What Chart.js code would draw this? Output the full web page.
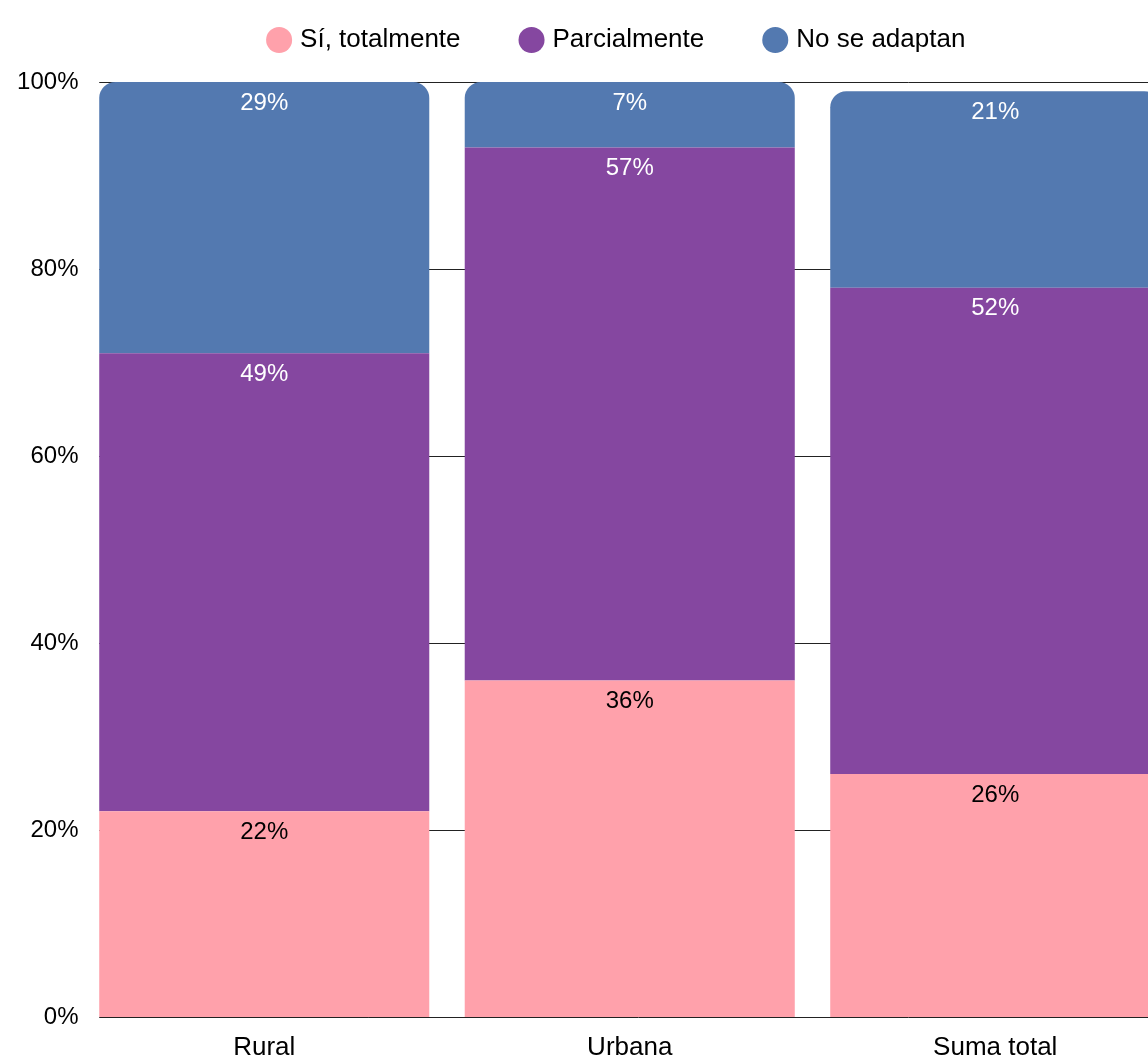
<!DOCTYPE html>
<html>
<head>
<meta charset="utf-8">
<script src="https://cdn.jsdelivr.net/npm/chart.js@4"></script>
<style>
  html, body { margin: 0; padding: 0; overflow: hidden; background: #fff; }
  #wrap { position: relative; width: 1178px; height: 1057px; }
</style>
</head>
<body>
<div id="wrap"><canvas id="adaptChart"></canvas></div>
<script>
// Data
const zonas = ['Rural', 'Urbana', 'Suma total'];
const totalmente = [22, 36, 26];
const parcialmente = [49, 57, 52];
const noAdaptan = [29, 7, 21];
const yTicks = [0, 20, 40, 60, 80, 100];

const FONT = "'Liberation Sans', Arial, sans-serif";

// grid lines start at the first bar, not at the chart area edge
const gridPlugin = {
    id: 'gridFromBars',
    afterLayout(chart) {
        // let the y labels use the space left of the axis box (layout padding is only for the legend)
        chart.scales.y.left = 0;
    },
    beforeDatasetsDraw(chart) {
        const ctx = chart.ctx;
        const y = chart.scales.y;
        const bar = chart.getDatasetMeta(0).data[0];
        const left = bar.x - bar.width / 2;
        ctx.save();
        ctx.strokeStyle = '#222';
        ctx.lineWidth = 1;
        yTicks.forEach(v => {
            const py = Math.round(y.getPixelForValue(v)) + 0.5;
            ctx.beginPath();
            ctx.moveTo(left, py);
            ctx.lineTo(chart.chartArea.right, py);
            ctx.stroke();
        });
        ctx.restore();
    }
};

// value labels at the top of each segment
const labelColors = ['#000000', '#ffffff', '#ffffff'];
const labelPlugin = {
    id: 'segmentLabels',
    afterDatasetsDraw(chart) {
        const ctx = chart.ctx;
        ctx.save();
        ctx.font = '24px ' + FONT;
        ctx.textAlign = 'center';
        ctx.textBaseline = 'middle';
        chart.data.datasets.forEach((ds, i) => {
            ctx.fillStyle = labelColors[i];
            chart.getDatasetMeta(i).data.forEach((el, j) => {
                ctx.fillText(ds.data[j] + '%', el.x, el.y + 21);
            });
        });
        ctx.restore();
    }
};

const adaptChart = new Chart(document.getElementById('adaptChart'), {
    type: 'bar',
    data: {
        labels: zonas,
        datasets: [
            {
                label: 'Sí, totalmente',
                data: totalmente,
                backgroundColor: '#ffa1ab',
                borderWidth: 0
            },
            {
                label: 'Parcialmente',
                data: parcialmente,
                backgroundColor: '#8547a0',
                borderWidth: 0
            },
            {
                label: 'No se adaptan',
                data: noAdaptan,
                backgroundColor: '#5379b0',
                borderWidth: 0,
                borderRadius: { topLeft: 16, topRight: 16, bottomLeft: 0, bottomRight: 0 }
            }
        ]
    },
    options: {
        responsive: true,
        maintainAspectRatio: false,
        animation: false,
        layout: { padding: { top: -36, left: 58.5, right: 0, bottom: 0 } },
        datasets: {
            bar: { barPercentage: 1, categoryPercentage: 0.903 }
        },
        scales: {
            x: {
                stacked: true,
                grid: { display: false, drawTicks: false },
                border: { display: false },
                ticks: { color: '#000', font: { family: FONT, size: 26 }, padding: 15 },
                afterFit(scale) { scale.height = 40; }
            },
            y: {
                stacked: true,
                min: 0,
                max: 100,
                grid: { display: false, drawTicks: false },
                border: { display: false },
                ticks: {
                    stepSize: 20,
                    color: '#000',
                    padding: 3,
                    font: { family: FONT, size: 24 },
                    callback: v => v + '%'
                },
                afterFit(scale) { scale.width = 23; }
            }
        },
        plugins: {
            legend: {
                position: 'top',
                labels: {
                    usePointStyle: true,
                    pointStyle: 'circle',
                    boxWidth: 16,
                    boxHeight: 18.4,
                    padding: 63,
                    color: '#000',
                    font: { family: FONT, size: 26 }
                }
            },
            // empty spacer between legend and plot
            title: {
                display: true,
                text: '',
                weight: 10,
                padding: 0,
                font: { size: 19, lineHeight: 1 }
            },
            tooltip: { enabled: false }
        }
    },
    plugins: [gridPlugin, labelPlugin]
});
</script>
</body>
</html>
